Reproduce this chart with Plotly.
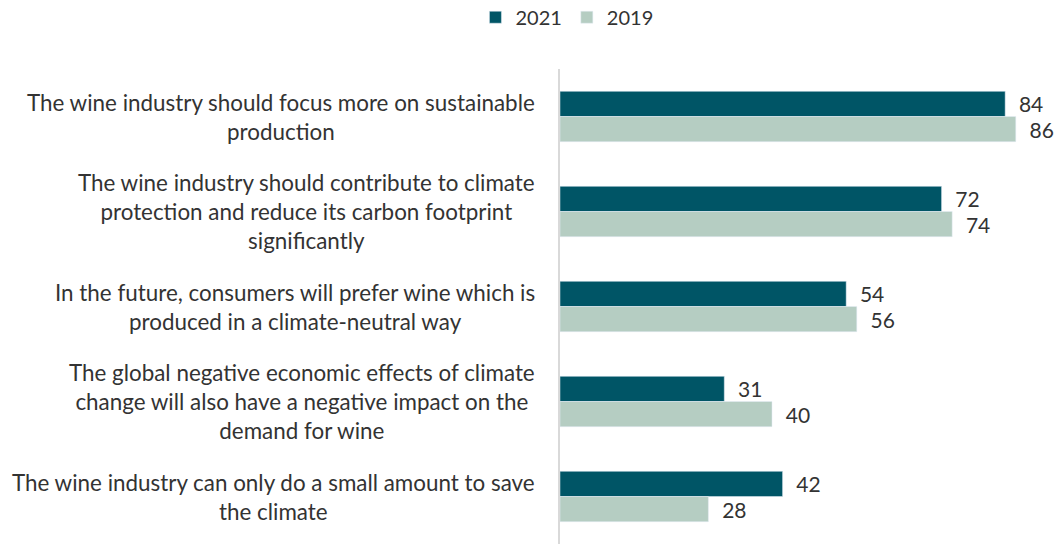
import plotly.graph_objects as go

categories = [
    "The wine industry should focus more on sustainable<br>production",
    "The wine industry should contribute to climate<br>protection and reduce its carbon footprint<br>significantly",
    "In the future, consumers will prefer wine which is<br>produced in a climate-neutral way",
    "The global negative economic effects of climate<br>change will also have a negative impact on the<br>demand for wine",
    "The wine industry can only do a small amount to save<br>the climate",
]
values_2021 = [84, 72, 54, 31, 42]
values_2019 = [86, 74, 56, 40, 28]

FONT = "Lato, 'Open Sans', sans-serif"
C2021 = "#005566"
C2019 = "#B5CDC2"
TXT = "#333333"

fig = go.Figure()
fig.add_trace(go.Bar(
    y=categories, x=values_2021, name="2021", orientation="h",
    marker=dict(color=C2021),
    text=values_2021, texttemplate="  %{x}", textposition="outside",
    textfont=dict(size=21, color=TXT, family=FONT), cliponaxis=False,
))
fig.add_trace(go.Bar(
    y=categories, x=values_2019, name="2019", orientation="h",
    marker=dict(color=C2019),
    text=values_2019, texttemplate="  %{x}", textposition="outside",
    textfont=dict(size=21, color=TXT, family=FONT), cliponaxis=False,
))

for c in categories:
    fig.add_annotation(
        x=0, xref="paper", y=c, yref="y", text=c, showarrow=False,
        xanchor="right", align="center", xshift=-23,
        font=dict(size=22.4, color=TXT, family=FONT),
    )

fig.update_layout(
    width=1055, height=544,
    margin=dict(l=560, r=0, t=69, b=0, autoexpand=False),
    paper_bgcolor="white", plot_bgcolor="white",
    barmode="group", bargap=0.47, bargroupgap=0,
    font=dict(family=FONT, color=TXT),
    showlegend=True,
    legend=dict(orientation="h", x=0.014, xanchor="center", y=1.109, yref="paper",
                yanchor="middle", font=dict(size=20, family=FONT, color=TXT),
                traceorder="normal", itemwidth=30),
    xaxis=dict(range=[0, 93.4], visible=False),
    yaxis=dict(autorange="reversed", showticklabels=False, ticks="",
               showline=True, linecolor="#d9d9d9", linewidth=2, showgrid=False),
)

fig.write_html(
    "out.html",
    config={"displayModeBar": False},
    post_script="document.body.style.margin='0';document.body.style.overflow='hidden';",
)
